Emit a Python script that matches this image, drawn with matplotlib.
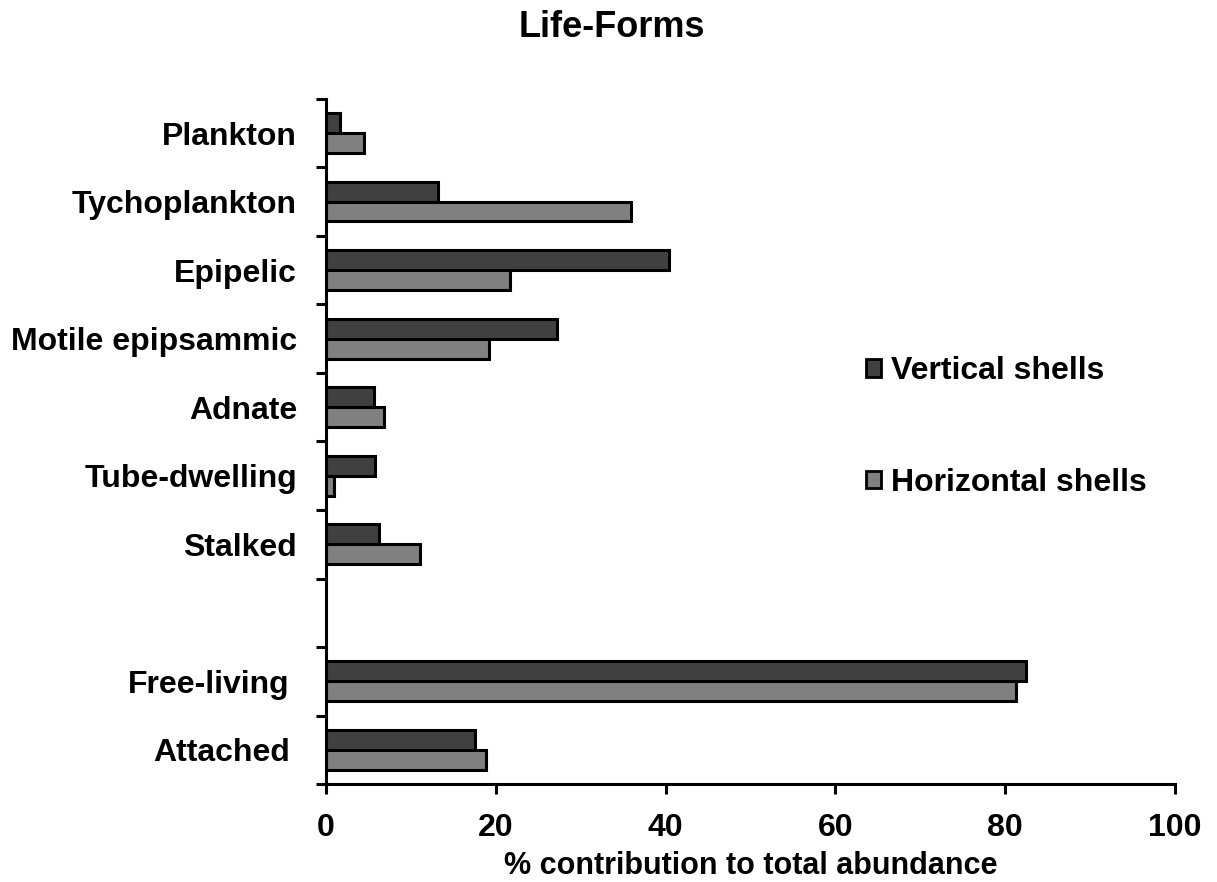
import matplotlib
matplotlib.use("Agg")
import matplotlib.pyplot as plt
from matplotlib.transforms import ScaledTranslation
from matplotlib.patches import Patch
import numpy as np

plt.rcParams['font.family'] = ['Liberation Sans', 'DejaVu Sans']
plt.rcParams['font.weight'] = 'bold'

categories = ["Plankton", "Tychoplankton", "Epipelic", "Motile epipsammic", "Adnate",
              "Tube-dwelling", "Stalked", "", "Free-living", "Attached"]
vertical = [1.6, 13.2, 40.4, 27.2, 5.6, 5.8, 6.2, None, 82.5, 17.5]
horizontal = [4.5, 35.9, 21.7, 19.2, 6.8, 0.9, 11.1, None, 81.3, 18.8]
series_names = ["Vertical shells", "Horizontal shells"]
xticks = [0, 20, 40, 60, 80, 100]

dark = "#404040"
light = "#808080"
FS = 23

fig = plt.figure(figsize=(12.17, 8.82), dpi=100)
ax = fig.add_axes([0.268, 0.111, 0.6975, 0.777])

h = 0.29
for i, (v, hz) in enumerate(zip(vertical, horizontal)):
    if v is not None:
        ax.barh(i - h / 2, v, height=h, color=dark, edgecolor="black", linewidth=2.2)
    if hz is not None:
        ax.barh(i + h / 2, hz, height=h, color=light, edgecolor="black", linewidth=2.2)

n = len(categories)
ax.set_ylim(n - 0.5, -0.5)
ax.set_xlim(0, 100)
ax.set_yticks(np.arange(-0.5, n, 1.0))
ax.set_yticklabels([])
ax.set_yticks(np.arange(n), minor=True)
ax.set_yticklabels(categories, minor=True, fontsize=FS, fontweight='bold')
ax.tick_params(axis='y', which='minor', length=0, pad=21)
ax.tick_params(axis='y', which='major', length=7.5, width=2.2, direction='out')
ax.set_xticks(xticks)
ax.set_xticklabels([str(t) for t in xticks], fontsize=FS, fontweight='bold')
ax.tick_params(axis='x', length=7.5, width=2.2, direction='out', pad=13)

for lbl in ax.get_yticklabels(minor=True):
    if lbl.get_text() in ("Free-living", "Attached"):
        lbl.set_transform(lbl.get_transform() + ScaledTranslation(-0.07, 0, fig.dpi_scale_trans))

for s in ("top", "right"):
    ax.spines[s].set_visible(False)
for s in ("left", "bottom"):
    ax.spines[s].set_linewidth(2.2)

ax.set_xlabel("% contribution to total abundance", fontsize=22, fontweight='bold', labelpad=6)
fig.text(0.503, 0.969, "Life-Forms", ha='center', va='center', fontsize=26, fontweight='bold')

handles = [Patch(facecolor=dark, edgecolor='black', linewidth=2.0),
           Patch(facecolor=light, edgecolor='black', linewidth=2.0)]
leg = ax.legend(handles, series_names, loc='center left', bbox_to_anchor=(0.602, 0.521),
                frameon=False, fontsize=FS, handlelength=0.48, handleheight=0.48,
                handletextpad=0.3, labelspacing=2.55)
for t in leg.get_texts():
    t.set_fontweight('bold')

fig.savefig("out.png", dpi=100)
